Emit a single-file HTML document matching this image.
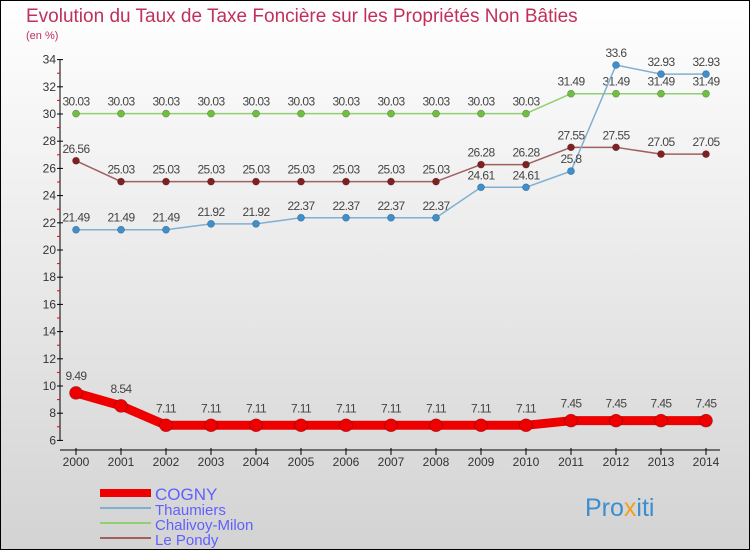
<!DOCTYPE html>
<html><head><meta charset="utf-8"><style>
body{margin:0}
svg{display:block;font-family:"Liberation Sans",sans-serif}
</style></head><body>
<svg id="c" width="750" height="550" viewBox="0 0 750 550">
<defs><linearGradient id="bg" x1="0" y1="0" x2="0" y2="1"><stop offset="0" stop-color="#ffffff"/><stop offset="1" stop-color="#d3d3d3"/></linearGradient></defs>
<rect x="0.5" y="0.5" width="749" height="549" fill="url(#bg)" stroke="#000"/>
<text x="26" y="22" font-size="19" fill="#c0305a">Evolution du Taux de Taxe Foncière sur les Propriétés Non Bâties</text>
<text x="26" y="39" font-size="11" fill="#c0305a">(en %)</text>
<g id="axes"></g><g id="series"></g>
<g>
<line x1="100" y1="493" x2="151" y2="493" stroke="#e00" stroke-width="8"/>
<text x="155" y="500" font-size="17" fill="#6060ff">COGNY</text>
<line x1="100" y1="508" x2="151" y2="508" stroke="#80b0d0" stroke-width="2"/>
<text x="155" y="515" font-size="15" fill="#6060ff">Thaumiers</text>
<line x1="100" y1="523" x2="151" y2="523" stroke="#90d070" stroke-width="2"/>
<text x="155" y="530" font-size="15" fill="#6060ff">Chalivoy-Milon</text>
<line x1="100" y1="538" x2="151" y2="538" stroke="#a06060" stroke-width="2"/>
<text x="155" y="545" font-size="15" fill="#6060ff">Le Pondy</text>
</g>
<text x="585" y="516" font-size="25" fill="#3a8fd0">Pro<tspan fill="#f0a020">x</tspan>iti</text>
</svg>
<script>
const years=[2000,2001,2002,2003,2004,2005,2006,2007,2008,2009,2010,2011,2012,2013,2014];
const yTicks=[6,8,10,12,14,16,18,20,22,24,26,28,30,32,34];
const cogny=[9.49,8.54,7.11,7.11,7.11,7.11,7.11,7.11,7.11,7.11,7.11,7.45,7.45,7.45,7.45];
const thaumiers=[21.49,21.49,21.49,21.92,21.92,22.37,22.37,22.37,22.37,24.61,24.61,25.8,33.6,32.93,32.93];
const chalivoy=[30.03,30.03,30.03,30.03,30.03,30.03,30.03,30.03,30.03,30.03,30.03,31.49,31.49,31.49,31.49];
const pondy=[26.56,25.03,25.03,25.03,25.03,25.03,25.03,25.03,25.03,26.28,26.28,27.55,27.55,27.05,27.05];
const NS="http://www.w3.org/2000/svg";
const X=i=>76+i*45, Y=v=>440.4-(v-6)*13.6;
function mk(tag,attrs,parent,txt){const e=document.createElementNS(NS,tag);for(const k in attrs)e.setAttribute(k,attrs[k]);if(txt!==undefined)e.textContent=txt;parent.appendChild(e);return e;}
const ax=document.getElementById('axes');
let e=mk('line',{x1:60,y1:60,x2:60,y2:441,stroke:'#000'},ax);


e=mk('line',{x1:60,y1:450,x2:720,y2:450,stroke:'#000'},ax);


yTicks.forEach(v=>{
 mk('line',{x1:57,y1:Y(v),x2:63,y2:Y(v),stroke:'#000'},ax);
 if(v<34) mk('line',{x1:57,y1:Y(v+1),x2:60,y2:Y(v+1),stroke:'#e00'},ax);
 const t=mk('text',{x:56,y:Y(v)+4,'font-size':12,'text-anchor':'end',fill:'#333'},ax,v);
 
 
});
years.forEach((y,i)=>{
 mk('line',{x1:X(i),y1:448,x2:X(i),y2:455,stroke:'#000'},ax);
 const t=mk('text',{x:X(i),y:466,'font-size':12,'text-anchor':'middle',fill:'#333'},ax,y);
 
 
});
const sg=document.getElementById('series');
function series(vals,name,col,w,r,dot,dy){
 const g=mk('g',{},sg);
 
 
 const p=mk('polyline',{points:vals.map((v,i)=>X(i)+','+Y(v)).join(' '),fill:'none',stroke:col,'stroke-width':w,'stroke-linejoin':'round'},g);
 
 
 vals.forEach((v,i)=>{
  const c=mk('circle',{cx:X(i),cy:Y(v),r:r,fill:dot,stroke:'rgba(0,0,0,0.3)','stroke-width':0.7},g);
  
  
  const t=mk('text',{x:X(i),y:Y(v)+dy,'font-size':12,'text-anchor':'middle',fill:'#444','letter-spacing':'-0.6'},g,String(v));
  
  
 });
}
series(chalivoy,'chalivoy-milon','#90d070',1.5,3.5,'#70c040',-8);
series(pondy,'le-pondy','#a06060',1.5,3.5,'#802020',-8);
series(thaumiers,'thaumiers','#80b0d0',1.5,3.5,'#3a90d0',-8);
series(cogny,'cogny','#ee0000',9,6.5,'#ee0000',-13);
</script>
</body></html>
